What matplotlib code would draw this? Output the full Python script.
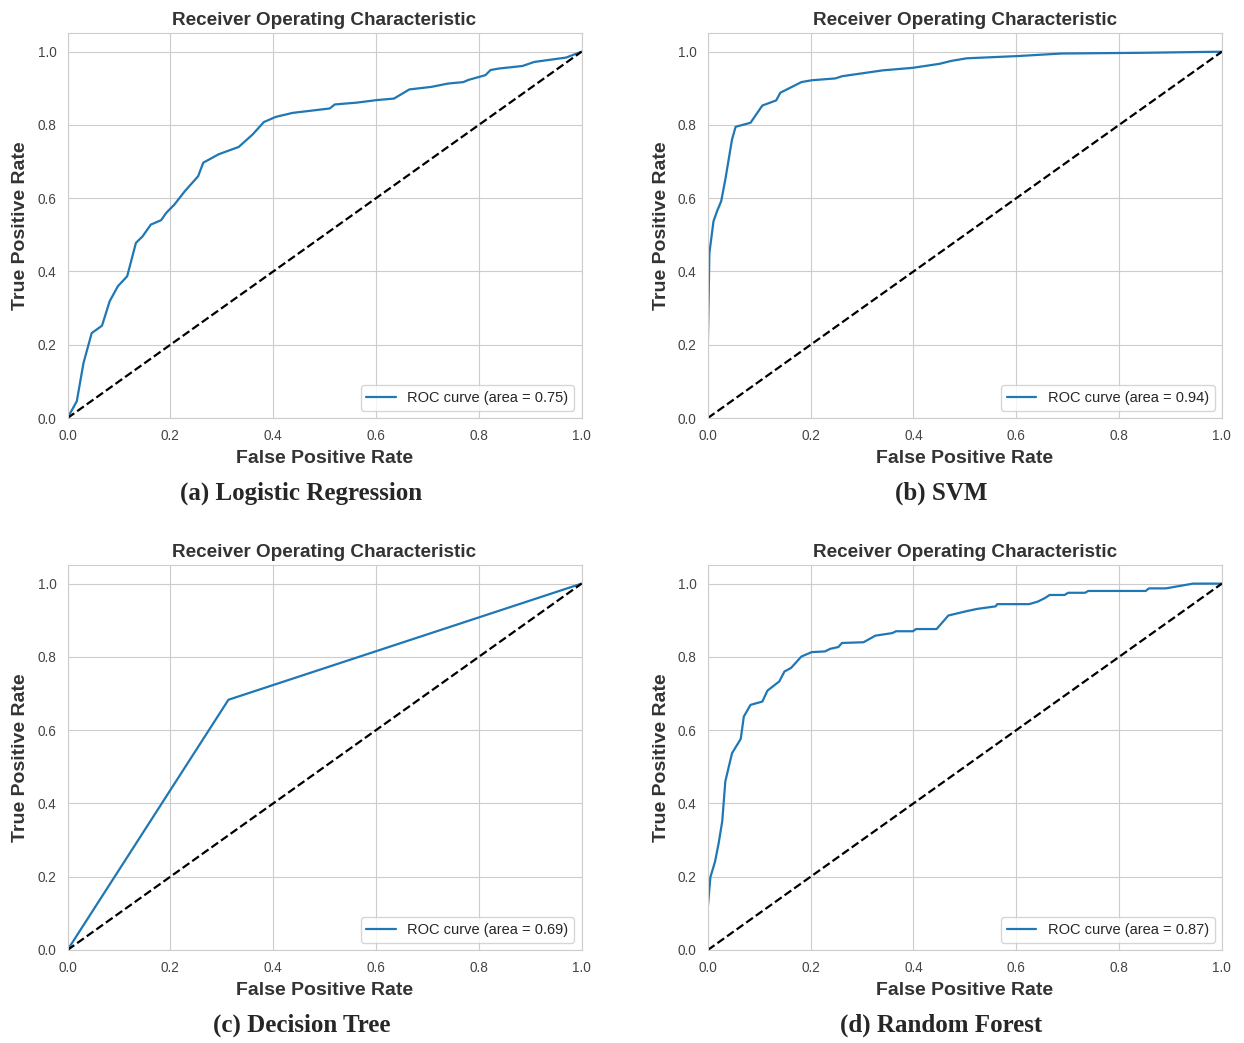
import matplotlib
matplotlib.use("Agg")
import matplotlib.pyplot as plt
import seaborn as sns

# ROC points
lr_fpr = [0.0, 0.018, 0.031, 0.047, 0.067, 0.082, 0.098, 0.116, 0.133, 0.146, 0.162, 0.182,
          0.192, 0.208, 0.228, 0.254, 0.264, 0.294, 0.333, 0.36, 0.382, 0.405, 0.438, 0.51,
          0.52, 0.563, 0.602, 0.635, 0.665, 0.708, 0.74, 0.77, 0.78, 0.813, 0.823, 0.839,
          0.885, 0.908, 0.97, 1.0]
lr_tpr = [0.0, 0.046, 0.15, 0.232, 0.252, 0.319, 0.36, 0.387, 0.478, 0.496, 0.528, 0.54,
          0.56, 0.583, 0.619, 0.66, 0.697, 0.72, 0.74, 0.774, 0.808, 0.822, 0.833, 0.845,
          0.856, 0.861, 0.868, 0.872, 0.897, 0.904, 0.913, 0.917, 0.923, 0.936, 0.95, 0.954,
          0.961, 0.972, 0.984, 1.0]

svm_fpr = [0.0, 0.0, 0.003, 0.011, 0.018, 0.026, 0.034, 0.047, 0.054, 0.083, 0.106, 0.133,
           0.141, 0.182, 0.202, 0.248, 0.261, 0.34, 0.399, 0.451, 0.474, 0.504, 0.602, 0.688,
           0.846, 1.0]
svm_tpr = [0.0, 0.2, 0.45, 0.537, 0.565, 0.592, 0.651, 0.76, 0.795, 0.806, 0.853, 0.867,
           0.888, 0.917, 0.922, 0.927, 0.933, 0.949, 0.956, 0.967, 0.975, 0.982, 0.988, 0.995,
           0.997, 1.0]

dt_fpr = [0.0, 0.313, 1.0]
dt_tpr = [0.0, 0.683, 1.0]

rf_fpr = [0.0, 0.0, 0.005, 0.014, 0.021, 0.028, 0.034, 0.047, 0.064, 0.07, 0.083, 0.106,
          0.116, 0.139, 0.149, 0.162, 0.182, 0.202, 0.228, 0.238, 0.254, 0.261, 0.303, 0.326,
          0.359, 0.366, 0.399, 0.405, 0.445, 0.468, 0.504, 0.524, 0.56, 0.563, 0.625, 0.642,
          0.655, 0.665, 0.694, 0.701, 0.734, 0.74, 0.852, 0.858, 0.891, 0.944, 1.0]
rf_tpr = [0.0, 0.118, 0.199, 0.241, 0.291, 0.351, 0.46, 0.537, 0.576, 0.637, 0.669, 0.678,
          0.708, 0.733, 0.76, 0.77, 0.801, 0.813, 0.815, 0.822, 0.827, 0.838, 0.84, 0.858,
          0.865, 0.87, 0.87, 0.876, 0.876, 0.913, 0.925, 0.931, 0.938, 0.944, 0.944, 0.951,
          0.96, 0.969, 0.969, 0.975, 0.975, 0.98, 0.98, 0.987, 0.987, 1.0, 1.0]

aucs = [0.75, 0.94, 0.69, 0.87]
captions = ["(a)", "(b)", "(c)", "(d)"]
models = ["Logistic Regression", "SVM", "Decision Tree", "Random Forest"]

sns.set_style("whitegrid")
plt.rcParams['font.family'] = ['Liberation Sans', 'DejaVu Sans']

fig = plt.figure(figsize=(12.44, 10.43), dpi=100)

positions = [
    [0.0543, 0.5992, 0.4132, 0.3688],
    [0.5690, 0.5992, 0.4132, 0.3688],
    [0.0543, 0.0892, 0.4132, 0.3688],
    [0.5690, 0.0892, 0.4132, 0.3688],
]
caption_x = [0.2424, 0.7564, 0.2424, 0.7564]
caption_y = [0.527, 0.527, 0.017, 0.017]

curves = [(lr_fpr, lr_tpr), (svm_fpr, svm_tpr), (dt_fpr, dt_tpr), (rf_fpr, rf_tpr)]

for i in range(4):
    ax = fig.add_axes(positions[i])
    fpr, tpr = curves[i]
    ax.plot(fpr, tpr, color="#1f77b4", lw=1.6,
            label="ROC curve (area = %0.2f)" % aucs[i])
    ax.plot([0, 1], [0, 1], "k--", lw=1.6)
    ax.set_xlim([0.0, 1.0])
    ax.set_ylim([0.0, 1.05])
    ax.set_xticks([0, 0.2, 0.4, 0.6, 0.8, 1.0])
    ax.set_yticks([0, 0.2, 0.4, 0.6, 0.8, 1.0])
    ax.tick_params(labelsize=9.8, colors="#444444", length=0, pad=8)
    ax.set_xlabel("False Positive Rate", fontsize=14, fontweight="bold", color="#333333", labelpad=5)
    ax.set_ylabel("True Positive Rate", fontsize=14, fontweight="bold", color="#333333", labelpad=6)
    ax.set_title("Receiver Operating Characteristic", fontsize=13.6, fontweight="bold",
                 color="#333333", pad=6)
    ax.legend(loc="lower right", fontsize=10.5, frameon=True)
    for s in ax.spines.values():
        s.set_color("#cccccc")

    fig.text(caption_x[i], caption_y[i], captions[i] + " " + models[i], ha="center", va="center",
             fontsize=18, fontweight="bold", family=["Liberation Serif", "DejaVu Serif"])

fig.savefig("out.png", dpi=100)
